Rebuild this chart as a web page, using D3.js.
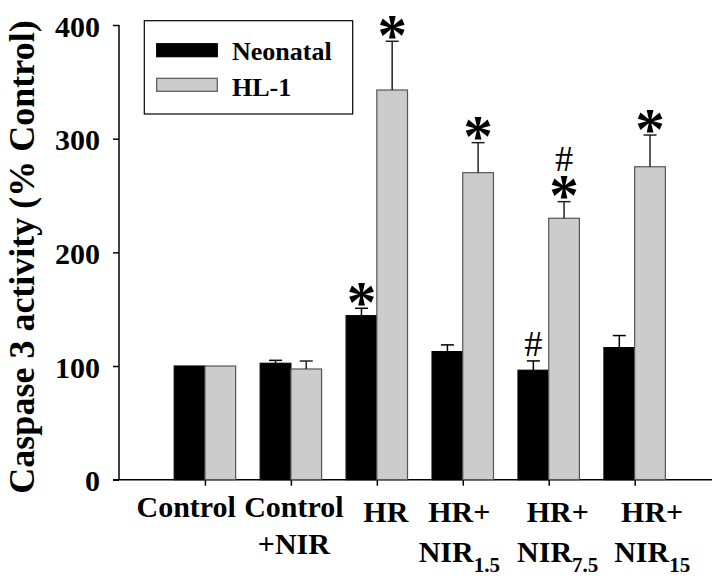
<!DOCTYPE html>
<html>
<head>
<meta charset="utf-8">
<script src="https://cdn.jsdelivr.net/npm/d3@7"></script>
<style>
  html, body { margin: 0; padding: 0; background: #fff; }
  svg { display: block; }
</style>
</head>
<body>
<svg id="chart" width="720" height="581"></svg>
<script>
// ---------------- data ----------------
const categoryLine1 = ["Control", "Control", "HR", "HR+", "HR+", "HR+"];
const categoryLine2 = ["", "+NIR", "", "NIR", "NIR", "NIR"];
const categorySub   = ["", "", "", "1.5", "7.5", "15"];

const seriesNames = ["Neonatal", "HL-1"];
const neonatal    = [100, 102.4, 144.3, 112.7, 96.3, 116.2];
const neonatalErr = [0, 2.6, 6.5, 5.9, 8.2, 10.6];
const hl1         = [100, 97.4, 342.8, 270.1, 230.0, 275.3];
const hl1Err      = [0, 7.0, 42.9, 26.4, 14.6, 27.9];

const neonatalSig = [[], [], ["*"], [], ["#"], []];
const hl1Sig      = [[], [], ["*"], ["*"], ["*", "#"], ["*"]];

const yTicks = [0, 100, 200, 300, 400];
const yTitle = "Caspase 3 activity (% Control)";

// ---------------- layout ----------------
const svg = d3.select("#chart");
const SERIF = "Liberation Serif";

const x = d3.scaleLinear().domain([-1, 5.9]).range([119, 712]);
const y = d3.scaleLinear().domain([0, 400]).range([479.7, 25]);
const barW = 30.7;
const capHalf = 6.5;

// label placement tweaks (px), as in the original figure
const labelDx   = [-18.7, 3, 9, -3.5, 9, 17.5];
const labelDy1  = [37, 37, 42.3, 42.3, 42.3, 42.3];
const labelGap  = [37.3, 37.3, 39.7, 39.7, 39.7, 39.7];

const series = [
  { name: seriesNames[0], values: neonatal, err: neonatalErr, sig: neonatalSig,
    fill: "#000000", stroke: "#000000", errColor: "#000000", side: -1 },
  { name: seriesNames[1], values: hl1, err: hl1Err, sig: hl1Sig,
    fill: "#cccccc", stroke: "#555555", errColor: "#222222", side: 0 }
];

// ---------------- axes ----------------
const yAxis = d3.axisLeft(y).tickValues(yTicks).tickSize(6).tickPadding(13).tickFormat(d3.format("d"));
const gy = svg.append("g").attr("transform", `translate(${x(-1)},0)`).call(yAxis);
gy.select(".domain").attr("stroke", "#000").attr("stroke-width", 1.5).attr("d", `M0,${y(0)}V${y(400)}`);
gy.selectAll(".tick line").attr("stroke", "#000").attr("stroke-width", 1.5);
gy.selectAll(".tick text")
  .attr("font-family", SERIF).attr("font-weight", "bold").attr("font-size", 30)
  .attr("fill", "#000").attr("dy", null).attr("y", 11);

const cats = d3.range(categoryLine1.length);
const xAxis = d3.axisBottom(x).tickValues(cats).tickSize(6).tickFormat("");
const gx = svg.append("g").attr("transform", `translate(0,${y(0)})`).call(xAxis);
gx.select(".domain").attr("stroke", "#000").attr("stroke-width", 1.5)
  .attr("d", `M${x(-1) - 6},0H${x(5.9)}`);
gx.selectAll(".tick line").attr("stroke", "#000").attr("stroke-width", 1.5);

// category labels
const labels = svg.append("g").attr("font-family", SERIF).attr("font-weight", "bold")
  .attr("font-size", 30).attr("fill", "#000").attr("text-anchor", "middle");
cats.forEach(i => {
  const cx = x(i) + labelDx[i];
  const b1 = y(0) + labelDy1[i];
  labels.append("text").attr("x", cx).attr("y", b1).text(categoryLine1[i]);
  if (categoryLine2[i]) {
    const t = labels.append("text").attr("x", cx).attr("y", b1 + labelGap[i]);
    t.append("tspan").text(categoryLine2[i]);
    if (categorySub[i]) {
      t.append("tspan").attr("font-size", 21).attr("dy", 10).text(categorySub[i]);
    }
  }
});

// y title
svg.append("text")
  .attr("transform", `translate(34,257) rotate(-90)`)
  .attr("text-anchor", "middle")
  .attr("font-family", SERIF).attr("font-weight", "bold").attr("font-size", 36)
  .attr("fill", "#000")
  .text(yTitle);

// ---------------- marker metrics (ink-based) ----------------
const ctx = document.createElement("canvas").getContext("2d");
const markerStyle = {
  "*": { weight: "bold",   inkH: 22.5, gap: 2.5 },
  "#": { weight: "normal", inkH: 24,   gap: 5 }
};
function markerFont(ch) {
  const st = markerStyle[ch];
  ctx.font = `${st.weight} 100px "${SERIF}"`;
  const m = ctx.measureText(ch);
  const h = m.actualBoundingBoxAscent + m.actualBoundingBoxDescent;
  const size = 100 * st.inkH / (h || 50);
  const k = size / 100;
  return { size, asc: m.actualBoundingBoxAscent * k, desc: m.actualBoundingBoxDescent * k };
}

// ---------------- bars ----------------
series.forEach(s => {
  const g = svg.append("g");
  cats.forEach(i => {
    const v = s.values[i];
    const x0 = x(i) + s.side * barW;
    g.append("rect")
      .attr("x", x0).attr("y", y(v))
      .attr("width", barW).attr("height", y(0) - y(v))
      .attr("fill", s.fill).attr("stroke", s.stroke).attr("stroke-width", 1.2);
    const e = s.err[i];
    const cx = x0 + barW / 2;
    let top = y(v);
    if (e > 0) {
      const yt = y(v + e);
      g.append("line").attr("x1", cx).attr("x2", cx).attr("y1", y(v)).attr("y2", yt)
        .attr("stroke", s.errColor).attr("stroke-width", 1.5);
      g.append("line").attr("x1", cx - capHalf).attr("x2", cx + capHalf).attr("y1", yt).attr("y2", yt)
        .attr("stroke", s.errColor).attr("stroke-width", 1.5);
      top = yt;
    }
    // significance markers stacked above, in one text element
    if (s.sig[i].length) {
      const t = g.append("text").attr("text-anchor", "middle")
        .attr("font-family", SERIF).attr("fill", "#000");
      let cursor = top;
      s.sig[i].forEach(ch => {
        const st = markerStyle[ch];
        const m = markerFont(ch);
        const baseline = cursor - st.gap - m.desc;
        t.append("tspan")
          .attr("x", cx).attr("y", baseline.toFixed(1))
          .attr("font-size", m.size.toFixed(1)).attr("font-weight", st.weight)
          .text(ch);
        cursor = baseline - m.asc;
      });
    }
  });
});

// ---------------- legend ----------------
const lg = svg.append("g");
lg.append("rect").attr("x", 144.3).attr("y", 20.7).attr("width", 208.4).attr("height", 93.3)
  .attr("fill", "#fff").attr("stroke", "#000").attr("stroke-width", 1.2);
series.forEach((s, k) => {
  const sy = [43.7, 78.3][k];
  lg.append("rect").attr("x", 156.7).attr("y", sy).attr("width", 60.6).attr("height", 13)
    .attr("fill", s.fill).attr("stroke", s.stroke).attr("stroke-width", 1.2);
  lg.append("text").attr("x", 232).attr("y", [60, 95.7][k])
    .attr("font-family", SERIF).attr("font-weight", "bold").attr("font-size", 26)
    .attr("fill", "#000").text(s.name);
});
</script>
</body>
</html>
